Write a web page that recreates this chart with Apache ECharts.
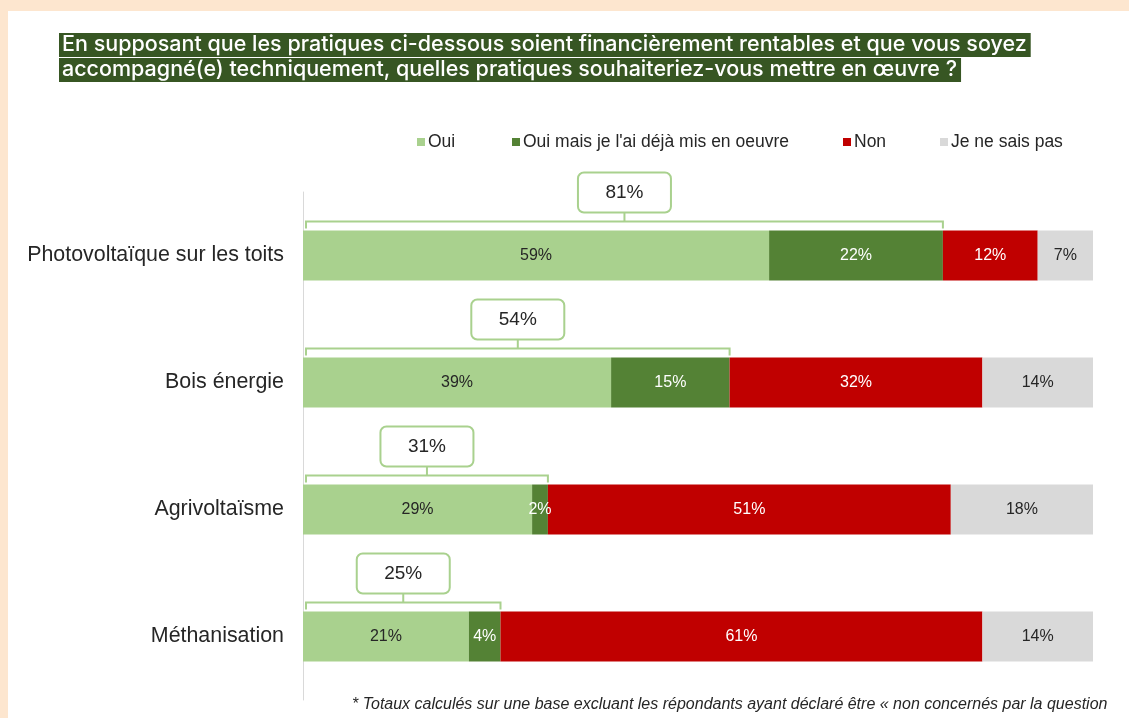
<!DOCTYPE html>
<html>
<head>
<meta charset="utf-8">
<script src="https://cdn.jsdelivr.net/npm/echarts@6/dist/echarts.min.js"></script>
<style>
  html, body { margin: 0; padding: 0; background: #fde6cf; }
  #chart { width: 1129px; height: 718px; }
</style>
</head>
<body>
<div id="chart"></div>
<script>
// données
var categories = ["Photovoltaïque sur les toits", "Bois énergie", "Agrivoltaïsme", "Méthanisation"];
var seriesNames = ["Oui", "Oui mais je l'ai déjà mis en oeuvre", "Non", "Je ne sais pas"];
var oui = [59, 39, 29, 21];
var ouiDeja = [22, 15, 2, 4];
var non = [12, 32, 51, 61];
var nsp = [7, 14, 18, 14];
var totals = [81, 54, 31, 25];

var colors = ["#a9d18e", "#548235", "#c00000", "#d9d9d9"];
var labelColors = ["#262626", "#ffffff", "#ffffff", "#262626"];
var font = "'Liberation Sans', Arial, sans-serif";

var chart = echarts.init(document.getElementById("chart"));

function barSeries(i, values) {
  return {
    name: seriesNames[i],
    type: "bar",
    stack: "total",
    barWidth: 50,
    data: values,
    itemStyle: { color: colors[i] },
    label: {
      show: true,
      position: "inside",
      formatter: "{c}%",
      color: labelColors[i],
      fontFamily: font,
      fontSize: 16
    }
  };
}

function legendAt(i, left) {
  return {
    data: [seriesNames[i]],
    left: left,
    top: 128,
    icon: "rect",
    itemWidth: 8,
    itemHeight: 8,
    itemGap: 3,
    textStyle: { fontFamily: font, fontSize: 17.5, color: "#262626", padding: [0, 0, 0, -2] }
  };
}

var option = {
  backgroundColor: "#fde6cf",
  animation: false,
  graphic: [
    { type: "rect", left: 8, top: 11, z: -10, shape: { width: 1121, height: 707 }, style: { fill: "#ffffff" } },
    {
      type: "text", left: 59, top: 33, z: 10,
      style: {
        text: "En supposant que les pratiques ci-dessous soient financièrement rentables et que vous soyez",
        fill: "#ffffff", font: "500 21.5px Inter, sans-serif", lineHeight: 24,
        backgroundColor: "#375623", padding: [0, 4, 0, 3]
      }
    },
    {
      type: "text", left: 59, top: 58, z: 10,
      style: {
        text: "accompagné(e) techniquement, quelles pratiques souhaiteriez-vous mettre en œuvre ?",
        fill: "#ffffff", font: "500 21.5px Inter, sans-serif", lineHeight: 24,
        backgroundColor: "#375623", padding: [0, 4, 0, 3]
      }
    },
    {
      type: "text", left: 352, top: 697,
      style: {
        text: "* Totaux calculés sur une base excluant les répondants ayant déclaré être « non concernés par la question",
        fill: "#262626", font: "italic 16px 'Liberation Sans', Arial, sans-serif"
      }
    }
  ],
  legend: [legendAt(0, 412), legendAt(1, 507), legendAt(2, 838), legendAt(3, 935)],
  grid: { left: 303, right: 36, top: 192, bottom: 18 },
  xAxis: { type: "value", min: 0, max: 100, show: false },
  yAxis: {
    type: "category",
    inverse: true,
    data: categories,
    axisLine: { lineStyle: { color: "#d9d9d9", width: 1 } },
    axisTick: { show: false },
    axisLabel: { margin: 19, fontFamily: font, fontSize: 21.4, color: "#262626", padding: [7, 0, 0, 0] }
  },
  series: [
    barSeries(0, oui),
    barSeries(1, ouiDeja),
    barSeries(2, non),
    barSeries(3, nsp),
    {
      type: "custom",
      name: "total",
      clip: false,
      z: 5,
      data: totals.map(function (t, i) { return [t, i]; }),
      encode: { x: 0, y: 1 },
      renderItem: function (params, api) {
        var total = api.value(0);
        var idx = api.value(1);
        var start = api.coord([0, idx]);
        var end = api.coord([total, idx]);
        var x0 = start[0] + 3;
        var x1 = end[0];
        var yLine = start[1] - 34;
        var cx = (x0 + x1) / 2;
        var boxW = 93, boxH = 40;
        var boxBottom = yLine - 9;
        var stroke = { stroke: "#a9d18e", lineWidth: 2, fill: null };
        return {
          type: "group",
          children: [
            { type: "polyline", shape: { points: [[x0, yLine + 7], [x0, yLine], [x1, yLine], [x1, yLine + 7]] }, style: stroke },
            { type: "line", shape: { x1: cx, y1: yLine, x2: cx, y2: boxBottom }, style: stroke },
            { type: "rect", shape: { x: cx - boxW / 2, y: boxBottom - boxH, width: boxW, height: boxH, r: 6 },
              style: { fill: "#ffffff", stroke: "#a9d18e", lineWidth: 2 } },
            { type: "text", style: { text: total + "%", x: cx, y: boxBottom - boxH / 2, align: "center", verticalAlign: "middle",
              fill: "#262626", font: "19px 'Liberation Sans', Arial, sans-serif" } }
          ]
        };
      }
    }
  ]
};

chart.setOption(option);
</script>
</body>
</html>
